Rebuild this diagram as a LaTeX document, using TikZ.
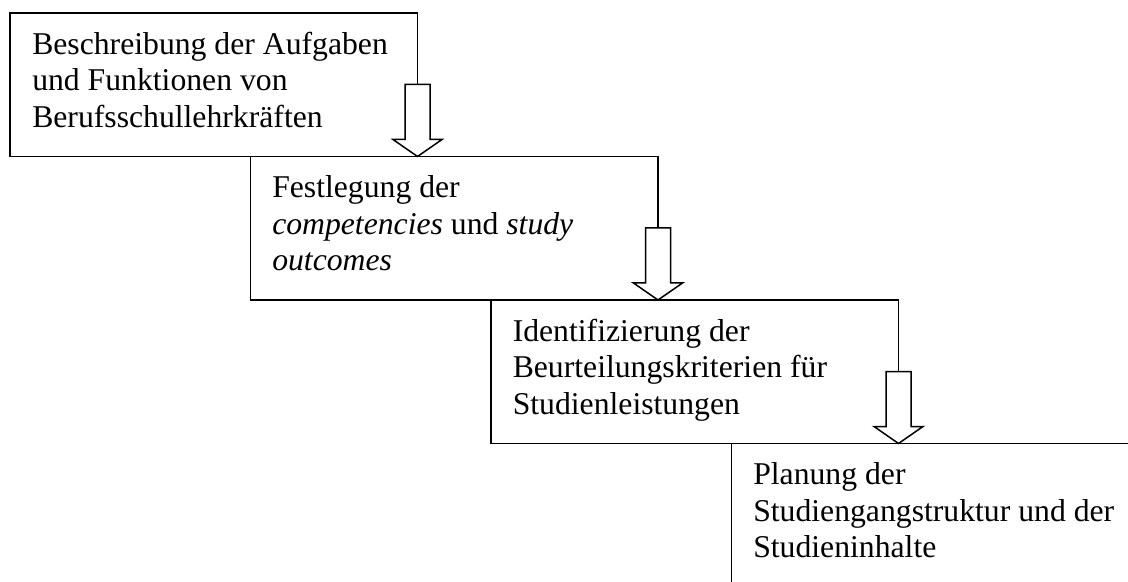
\documentclass[tikz,border=0pt]{standalone}
\usepackage{fontspec}
\setmainfont{Liberation Serif}
\usetikzlibrary{positioning, calc}

\begin{document}
\begin{tikzpicture}[x=1pt, y=1pt, line width=0.75pt,
        box/.style={rectangle, draw, minimum width=203.75pt, minimum height=71.75pt, inner sep=0pt, outer sep=0pt, anchor=north west},
        txt/.style={anchor=north west, align=left, inner sep=0pt, font=\fontsize{15.85pt}{18.25pt}\selectfont},
        pfeil/.style={draw, fill=white, line join=miter}]

        \useasboundingbox (0,0) rectangle (564,-291);
        \clip (0,0) rectangle (564,-291);

        \node (b1) [box] at (5,-6.5) {};
        \node (b2) [box, xshift=120.25pt] at (b1.south west) {};
        \node (b3) [box, xshift=120.25pt] at (b2.south west) {};
        \node (b4) [box, xshift=120.25pt] at (b3.south west) {};

        \node (t1) [txt] at ($(b1.north west)+(10.75,-9.2)$) {Beschreibung der Aufgaben\\und Funktionen von\\Berufsschullehrkräften};
        \node (t2) [txt] at ($(b2.north west)+(10.5,-9.2)$) {Festlegung der\\\textit{competencies} und \textit{study}\\\textit{outcomes}};
        \node (t3) [txt] at ($(b3.north west)+(10.5,-9.2)$) {Identifizierung der\\Beurteilungskriterien für\\Studienleistungen};
        \node (t4) [txt] at ($(b4.north west)+(10.5,-9.2)$) {Planung der\\Studiengangstruktur und der\\Studieninhalte};

        \draw[pfeil] (b1.south east) -- ++(12.25,8.5) -- ++(-6,0) -- ++(0,27.5) -- ++(-12.5,0) -- ++(0,-27.5) -- ++(-6,0) -- cycle;
        \draw[pfeil] (b2.south east) -- ++(12.25,8.5) -- ++(-6,0) -- ++(0,27.5) -- ++(-12.5,0) -- ++(0,-27.5) -- ++(-6,0) -- cycle;
        \draw[pfeil] (b3.south east) -- ++(12.25,8.5) -- ++(-6,0) -- ++(0,27.5) -- ++(-12.5,0) -- ++(0,-27.5) -- ++(-6,0) -- cycle;
    \end{tikzpicture}
\end{document}
